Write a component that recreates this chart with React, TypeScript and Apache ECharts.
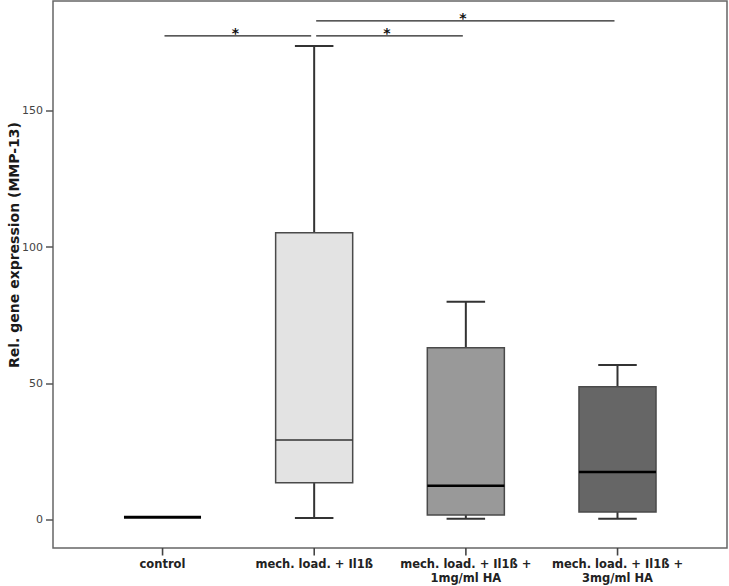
import React, { useEffect, useRef } from "react";
import * as echarts from "echarts";

// ---- data ----
const categories = [
  "control",
  "mech. load. + Il1ß",
  "mech. load. + Il1ß +\n1mg/ml HA",
  "mech. load. + Il1ß +\n3mg/ml HA",
];
const whiskerMin = [1.0, 0.7, 0.4, 0.4];
const q1 = [1.0, 13.6, 1.8, 2.9];
const median = [1.0, 29.3, 12.5, 17.6];
const q3 = [1.0, 105.3, 63.1, 48.8];
const whiskerMax = [1.0, 173.8, 80.0, 56.8];
const yTicks = [0, 50, 100, 150];
const xTicks = [0, 1, 2, 3];
const sigFrom = [0, 1, 1];
const sigTo = [1, 2, 3];
const sigLevel = [177.5, 177.5, 183.0];
const sigLabel = ["*", "*", "*"];

// ---- styles ----
const boxFill = ["none", "#e3e3e3", "#999999", "#666666"];
const medianColor = ["#000000", "#333333", "#000000", "#000000"];
const medianWidth = [3, 1.5, 2.5, 2.5];
const FONT = "DejaVu Sans";
const Y_MIN = -10.3;
const Y_MAX = 190.3;
const X_MIN = -0.722;
const X_MAX = 3.722;

export default function App() {
  const ref = useRef<HTMLDivElement>(null);
  useEffect(() => {
    if (!ref.current) return;
    const chart = echarts.init(ref.current, null, { renderer: "svg" });
    const boxData = categories.map((_, i) => [i, whiskerMin[i], q1[i], median[i], q3[i], whiskerMax[i]]);
    const sigData = sigFrom.map((f, i) => [f, sigTo[i], sigLevel[i], sigLabel[i]]);
    chart.setOption({
      animation: false,
      grid: {
        left: 53, right: 2, top: 1, bottom: 38, show: true, borderColor: "#666", borderWidth: 1.5,
        backgroundColor: "transparent", containLabel: false, outerBoundsMode: "none",
      },
      xAxis: {
        type: "value",
        min: X_MIN,
        max: X_MAX,
        axisLine: { show: false, onZero: false },
        axisTick: { show: false },
        axisLabel: {
          customValues: xTicks,
          formatter: (v: number) => categories[Math.round(v)] ?? "",
          margin: 9,
          fontFamily: FONT,
          fontWeight: "bold",
          fontSize: 11.5,
          lineHeight: 14,
          color: "#222",
        },
        splitLine: { show: false },
      },
      yAxis: {
        type: "value",
        min: Y_MIN,
        max: Y_MAX,
        axisLine: { show: false, onZero: false },
        axisTick: { show: true, length: 7, customValues: yTicks, lineStyle: { color: "#555", width: 1.5 } },
        axisLabel: { customValues: yTicks, margin: 10, fontFamily: FONT, fontSize: 11, color: "#444" },
        splitLine: { show: false },
      },
      graphic: [
        {
          type: "text",
          id: "ytitle",
          x: 14,
          y: 245,
          rotation: Math.PI / 2,
          style: {
            text: "Rel. gene expression (MMP-13)",
            font: `bold 14px "${FONT}"`,
            fill: "#1a1a1a",
            align: "center",
            verticalAlign: "middle",
          },
        },
      ],
      series: [
        {
          type: "custom",
          data: boxData,
          encode: { x: 0, y: [1, 2, 3, 4, 5] },
          renderItem: (params: any, api: any) => {
            const i = params.dataIndex;
            const x = api.value(0);
            const band = api.size([1, 0])[0];
            const bw = band * 0.508;
            const cw = bw / 2;
            const pMin = api.coord([x, api.value(1)]);
            const pQ1 = api.coord([x, api.value(2)]);
            const pMed = api.coord([x, api.value(3)]);
            const pQ3 = api.coord([x, api.value(4)]);
            const pMax = api.coord([x, api.value(5)]);
            const cx = pMed[0];
            const children: any[] = [];
            const ws = { stroke: "#333", lineWidth: 2 };
            if (api.value(4) > api.value(2)) {
              children.push({ type: "line", shape: { x1: cx, y1: pMax[1], x2: cx, y2: pQ3[1] }, style: ws });
              children.push({ type: "line", shape: { x1: cx - cw / 2, y1: pMax[1], x2: cx + cw / 2, y2: pMax[1] }, style: ws });
              children.push({ type: "line", shape: { x1: cx, y1: pQ1[1], x2: cx, y2: pMin[1] }, style: ws });
              children.push({ type: "line", shape: { x1: cx - cw / 2, y1: pMin[1], x2: cx + cw / 2, y2: pMin[1] }, style: ws });
              children.push({
                type: "rect",
                shape: { x: cx - bw / 2, y: pQ3[1], width: bw, height: pQ1[1] - pQ3[1] },
                style: { fill: boxFill[i], stroke: "#4a4a4a", lineWidth: 1.5 },
              });
            }
            children.push({
              type: "line",
              shape: { x1: cx - bw / 2, y1: pMed[1], x2: cx + bw / 2, y2: pMed[1] },
              style: { stroke: medianColor[i], lineWidth: medianWidth[i] },
            });
            return { type: "group", children };
          },
          z: 2,
        },
        {
          type: "custom",
          data: sigData,
          encode: { x: [0, 1], y: 2 },
          renderItem: (params: any, api: any) => {
            const a = api.coord([api.value(0), api.value(2)]);
            const b = api.coord([api.value(1), api.value(2)]);
            const y = a[1];
            return {
              type: "group",
              children: [
                { type: "line", shape: { x1: a[0] + 2, y1: y, x2: b[0] - 3, y2: y }, style: { stroke: "#222", lineWidth: 1.2 } },
                {
                  type: "text",
                  x: (a[0] + b[0]) / 2 - 3,
                  y: y - 3,
                  style: {
                    text: sigData[params.dataIndex][3],
                    font: `bold 14px "${FONT}"`,
                    fill: "#111",
                    align: "center",
                    verticalAlign: "middle",
                  },
                },
              ],
            };
          },
          z: 3,
        },
      ],
    });
    // category ticks below the frame, positioned through the axis scale (filled rects)
    const tickEls = xTicks.map((t, k) => {
      const p = chart.convertToPixel({ gridIndex: 0 }, [t, Y_MIN]) as number[];
      return {
        type: "rect",
        id: "xtick" + k,
        z: 100,
        silent: true,
        shape: { x: p[0] - 0.75, y: p[1], width: 1.6, height: 7.5 },
        style: { fill: "#444" },
      };
    });
    chart.setOption({ graphic: tickEls });
    return () => chart.dispose();
  }, []);
  return <div ref={ref} style={{ width: 729, height: 586, position: "absolute", left: 0, top: 0 }} />;
}
